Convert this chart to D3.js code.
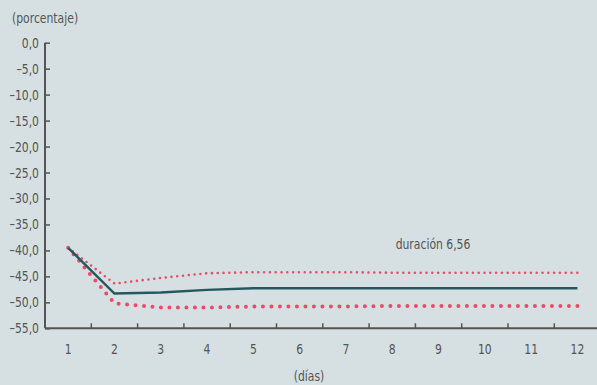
<!DOCTYPE html>
<html><head><meta charset="utf-8">
<script src="https://cdn.jsdelivr.net/npm/d3@7"></script>
<style>
html,body{margin:0;padding:0;background:#d6dfe2;}
svg{display:block;}
text{font-family:"DejaVu Sans Condensed","DejaVu Sans",sans-serif;font-stretch:condensed;fill:#555;}
</style></head>
<body><svg id="c" width="597" height="385"></svg>
<script>
const days = [1,2,3,4,5,6,7,8,9,10,11,12];
const central = [-39.5,-48.3,-48.1,-47.6,-47.3,-47.3,-47.3,-47.3,-47.3,-47.3,-47.3,-47.3];
const upper = [-39.5,-46.4,-45.3,-44.4,-44.2,-44.2,-44.2,-44.3,-44.3,-44.3,-44.3,-44.3];
const lower = [-39.5,-50.2,-51.0,-51.0,-50.8,-50.8,-50.8,-50.7,-50.7,-50.7,-50.7,-50.7];
const yTicks = [0,-5,-10,-15,-20,-25,-30,-35,-40,-45,-50,-55];
const annotation = "duración 6,56";

const svg = d3.select("#c");
const x0 = 45, x1 = 600.6, yTop = 42.7, yBot = 328.3;
const band = d3.scaleBand().domain(days).range([x0, x1]);
const x = d => band(d) + band.bandwidth()/2;
const y = d3.scaleLinear().domain([-55, 0]).range([yBot, yTop]);
const fmt = v => (v < 0 ? "–" : "") + Math.abs(v).toFixed(1).replace(".", ",");
const SX = 0.83, FS = 14.5;
const place = (sel, fx, fy) => sel.attr("transform", (d,i) => `translate(${fx(d,i)},${fy(d,i)}) scale(${SX},1)`)
  .attr("font-size", FS);

const ya = svg.append("g").attr("transform", `translate(${x0},0)`)
  .call(d3.axisRight(y).tickValues(yTicks).tickSize(5).tickFormat(""));
ya.select(".domain").attr("stroke","#555").attr("stroke-width",2).attr("d",`M0,${yTop}V${yBot}`);
ya.selectAll(".tick line").attr("stroke","#555").attr("stroke-width",1.5);
place(svg.append("g").selectAll("text").data(yTicks).join("text")
  .attr("text-anchor","end").text(fmt), () => 39, d => y(d) + 5);

const xa = svg.append("g").attr("transform", `translate(0,${yBot})`)
  .call(d3.axisTop(band).tickSize(0).tickFormat(""));
xa.select(".domain").attr("stroke","#555").attr("stroke-width",2).attr("d",`M${x0},0H597`);
xa.selectAll(".tick").remove();
svg.append("g").selectAll("line").data(days.slice(1)).join("line")
  .attr("x1", d => band(d)).attr("x2", d => band(d))
  .attr("y1", yBot - 5).attr("y2", yBot)
  .attr("stroke","#555").attr("stroke-width",1.5);
place(svg.append("g").selectAll("text").data(days).join("text")
  .attr("text-anchor","middle").text(d => d), d => x(d), () => 353.5);

const line = d3.line().x((d,i) => x(days[i])).y(d => y(d));
svg.append("path").datum(upper).attr("d", line).attr("fill","none")
  .attr("stroke","#e94d66").attr("stroke-width",2.6).attr("stroke-linecap","round")
  .attr("stroke-dasharray","0 5.8");
svg.append("path").datum(lower).attr("d", line).attr("fill","none")
  .attr("stroke","#e94d66").attr("stroke-width",4).attr("stroke-linecap","round")
  .attr("stroke-dasharray","0 8.5");
svg.append("path").datum(central).attr("d", line).attr("fill","none")
  .attr("stroke","#24585e").attr("stroke-width",2.4);

place(svg.append("text").text("(porcentaje)"), () => 12, () => 23);
place(svg.append("text").attr("text-anchor","middle").text("(días)"), () => 309, () => 381);
place(svg.append("text").attr("text-anchor","middle").text(annotation), () => 433, () => 249);
</script></body></html>
